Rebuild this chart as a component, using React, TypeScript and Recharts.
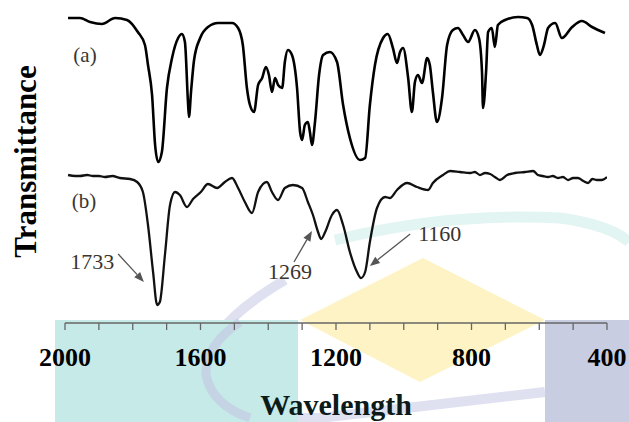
import { LineChart, Line, XAxis, YAxis, ReferenceLine, ReferenceDot } from 'recharts'

// spectrum (a)
const wavenumbersA = [
  1991, 1956, 1926, 1891, 1852, 1817, 1785, 1764, 1755, 1743, 1734, 1725, 1714, 1699, 1684, 1666,
  1655, 1646, 1637, 1634, 1628, 1619, 1601, 1578, 1548, 1507, 1489, 1475, 1463, 1454, 1442, 1430,
  1418, 1407, 1398, 1389, 1380, 1371, 1359, 1351, 1342, 1330, 1315, 1306, 1300, 1292, 1283, 1277,
  1271, 1262, 1250, 1238, 1218, 1197, 1179, 1159, 1129, 1114, 1100, 1085, 1061, 1047, 1032, 1020,
  1011, 1002, 987, 976, 967, 958, 946, 931, 923, 914, 902, 887, 872, 855, 840, 825,
  810, 790, 778, 769, 766, 757, 751, 740, 731, 722, 701, 663, 636, 621, 607, 598,
  586, 574, 553, 533, 503, 474, 444, 406,
]
const transmittanceA = [
  305, 305, 301, 299, 305, 303, 291, 278, 258, 228, 178, 161, 171, 235, 265, 285,
  289, 281, 221, 206, 231, 263, 285, 296, 300, 300, 295, 278, 235, 218, 211, 238,
  245, 256, 248, 231, 245, 238, 235, 261, 273, 268, 235, 191, 183, 198, 201, 191,
  178, 201, 248, 268, 271, 261, 218, 185, 163, 165, 218, 258, 285, 289, 275, 260,
  271, 275, 245, 211, 241, 248, 240, 265, 258, 231, 201, 225, 278, 293, 295, 288,
  281, 293, 285, 251, 215, 251, 291, 295, 276, 298, 303, 306, 305, 298, 278, 268,
  278, 295, 300, 285, 296, 302, 296, 290,
]

// spectrum (b)
const wavenumbersB = [
  1991, 1970, 1956, 1935, 1917, 1900, 1882, 1860, 1838, 1808, 1787, 1770, 1755, 1740, 1728, 1720,
  1705, 1690, 1675, 1661, 1640, 1622, 1599, 1578, 1551, 1528, 1507, 1489, 1469, 1448, 1430, 1404,
  1389, 1371, 1351, 1327, 1300, 1283, 1268, 1253, 1244, 1232, 1212, 1197, 1179, 1159, 1138, 1126,
  1114, 1100, 1079, 1055, 1041, 1020, 990, 961, 928, 914, 884, 863, 834, 804, 790, 775,
  760, 745, 731, 716, 695, 672, 642, 618, 604, 590, 574, 560, 545, 530, 515, 500,
  486, 470, 456, 443, 430, 415, 400,
]
const transmittanceB = [
  148, 147, 147, 148, 147, 147, 146, 147, 145, 144, 141, 131, 98, 51, 18, 21,
  68, 118, 131, 128, 116, 124, 131, 139, 135, 141, 145, 135, 121, 110, 131, 141,
  131, 123, 135, 138, 135, 121, 108, 91, 84, 91, 108, 113, 98, 71, 51, 45,
  51, 81, 115, 126, 125, 133, 140, 136, 133, 140, 148, 152, 151, 150, 151, 148,
  150, 149, 146, 143, 148, 150, 151, 152, 148, 147, 146, 147, 145, 146, 143, 145,
  145, 142, 140, 144, 143, 143, 146,
]

const xTicks = [2000, 1900, 1800, 1700, 1600, 1500, 1400, 1300, 1200, 1100, 1000, 900, 800, 700, 600, 500, 400]
const tickLabels = [2000, 1600, 1200, 800, 400]

// peak annotations: label, arrow tail [x, y], arrow head [x, y]
const peakLabels = ['1733', '1269', '1160']
const arrowTails = [[1843, 69], [1324, 61], [981, 89]]
const arrowHeads = [[1767, 41], [1271, 92], [1100, 57]]

const dataA = wavenumbersA.map((w, i) => ({ w, t: transmittanceA[i] }))
const dataB = wavenumbersB.map((w, i) => ({ w, t: transmittanceB[i] }))

const serif = '"Liberation Serif", "Times New Roman", serif'
const labelPlace = [
  { dx: -4, dy: 15, anchor: 'end' },
  { dx: -4, dy: 17, anchor: 'middle' },
  { dx: 8, dy: 7, anchor: 'start' },
]

const arrowShape = (label: string, place: { dx: number; dy: number; anchor: string }) => (p: any) => {
  const { x1, y1, x2, y2 } = p
  const ang = Math.atan2(y2 - y1, x2 - x1)
  const len = 10
  const half = 4
  const bx = x2 - len * Math.cos(ang)
  const by = y2 - len * Math.sin(ang)
  const pts = `${x2},${y2} ${bx - half * Math.sin(ang)},${by + half * Math.cos(ang)} ${bx + half * Math.sin(ang)},${by - half * Math.cos(ang)}`
  return (
    <g>
      <line x1={x1} y1={y1} x2={bx} y2={by} stroke="#555" strokeWidth={1.3} />
      <polygon points={pts} fill="#555" />
      <text x={x1 + place.dx} y={y1 + place.dy} textAnchor={place.anchor as any} fontFamily={serif} fontSize={22} fill="#3a3530">
        {label}
      </text>
    </g>
  )
}

const XTick = ({ x, y, payload }: any) => {
  if (!tickLabels.includes(payload.value)) return <g />
  return (
    <text x={x} y={y} dy={34} textAnchor="middle" fontFamily={serif} fontWeight="bold" fontSize={26} fill="#000">
      {payload.value}
    </text>
  )
}

const YLabel = ({ viewBox }: any) => {
  const cx = (viewBox?.x ?? 0) + 36
  const cy = (viewBox?.y ?? 0) + (viewBox?.height ?? 323) / 2
  return (
    <text x={cx} y={cy} transform={`rotate(-90 ${cx} ${cy})`} textAnchor="middle" fontFamily={serif} fontWeight="bold" fontSize={31} fill="#000">
      Transmittance
    </text>
  )
}

const curveTag = (tag: string) => (p: any) => (
  <text x={p.cx} y={p.cy} textAnchor="middle" fontFamily={serif} fontSize={21} fill="#3a3530">
    {tag}
  </text>
)

function Watermark() {
  return (
    <svg width={629} height={422} style={{ position: 'absolute', left: 0, top: 0 }}>
      <path d="M335,240 Q450,212 560,218 Q610,225 629,242" fill="none" stroke="#e2f5f3" strokeWidth={11} />
      <path d="M285,280 Q200,330 205,375 Q215,420 320,418 L545,392" fill="none" stroke="#dfe1f1" strokeWidth={10} />
      <rect x={55} y={320} width={243} height={102} fill="#c6eae7" />
      <rect x={545} y={320} width={84} height={102} fill="#c9cde2" />
      <polygon points="423,258 545,320 420,382 300,320" fill="#fdf3c4" />
      <path d="M240,322 Q205,345 206,375 Q212,405 250,418" fill="none" stroke="#c3cbe3" strokeWidth={9} opacity={0.7} />
    </svg>
  )
}

export default function App() {
  return (
    <div style={{ position: 'absolute', left: 0, top: 0, width: 629, height: 422, background: '#fff' }}>
      <Watermark />
      <div style={{ position: 'absolute', left: 0, top: 0 }}>
        <LineChart width={629} height={422} margin={{ top: 0, right: 22, bottom: 0, left: 0 }}>
          <XAxis
            dataKey="w"
            type="number"
            domain={[400, 2000]}
            reversed
            ticks={xTicks}
            interval={0}
            tick={<XTick />}
            tickSize={7}
            tickLine={{ stroke: '#666', strokeWidth: 1.3 }}
            axisLine={{ stroke: '#666', strokeWidth: 1.5 }}
            height={99}
            allowDataOverflow
            label={{ value: 'Wavelength', position: 'insideBottom', offset: 7, style: { fontFamily: serif, fontWeight: 'bold', fontSize: 30, fill: '#0d1a1a' } }}
          />
          <YAxis type="number" domain={[0, 323]} width={65} tick={false} axisLine={false} tickLine={false} label={<YLabel />} />
          <Line data={dataA} dataKey="t" type="monotone" stroke="#000" strokeWidth={2.6} dot={false} isAnimationActive={false} />
          <Line data={dataB} dataKey="t" type="monotone" stroke="#111" strokeWidth={2.3} dot={false} isAnimationActive={false} />
          <ReferenceDot x={1941} y={261} r={0} shape={curveTag('(a)')} />
          <ReferenceDot x={1944} y={115} r={0} shape={curveTag('(b)')} />
          {peakLabels.map((lab, i) => (
            <ReferenceLine
              key={lab}
              segment={[
                { x: arrowTails[i][0], y: arrowTails[i][1] },
                { x: arrowHeads[i][0], y: arrowHeads[i][1] },
              ]}
              ifOverflow="visible"
              shape={arrowShape(lab, labelPlace[i])}
            />
          ))}
        </LineChart>
      </div>
    </div>
  )
}
